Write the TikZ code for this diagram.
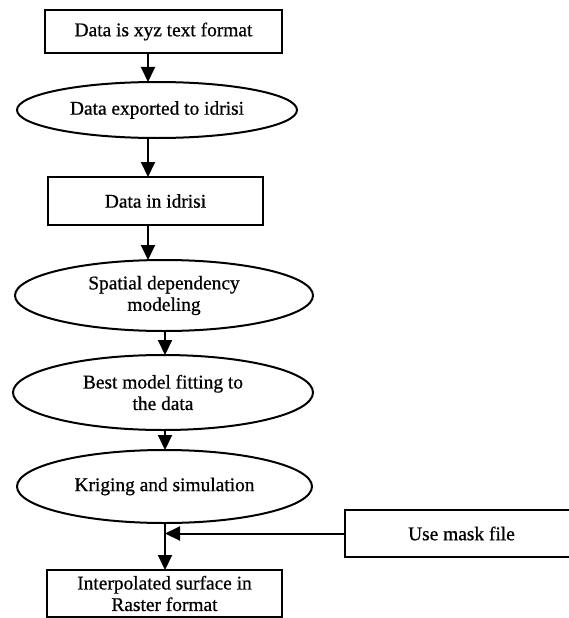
\documentclass[tikz,border=0pt]{standalone}
\usepackage{fontspec}
\setmainfont{Liberation Serif}[UprightFeatures={FakeBold=0.7}]
\usetikzlibrary{shapes.geometric,positioning,arrows.meta}
\tikzset{
>={Triangle[width=14pt,length=15pt]},
every node/.style={font=\fontsize{19.4}{21.5}\selectfont},
}

\begin{document}
\begin{tikzpicture}
    [x=1pt, y=1pt,
    line width=2pt,
    block/.style={draw, rectangle, align=center, inner sep=0pt, outer sep=0pt},
    oval/.style={draw, ellipse, align=center, inner sep=0pt, outer sep=0pt}
    ]
    \useasboundingbox (0,0) rectangle (568,-618);

    \node [block, minimum width=237pt, minimum height=43pt] (xyz) at (163.5,-31.5)
    {Data is xyz text format};

    \node [oval, minimum width=280pt, minimum height=56pt, below=29pt of xyz, xshift=-6.5pt] (export)
    {Data exported to idrisi};

    \node [block, minimum width=215pt, minimum height=48pt, below=39pt of export, xshift=-1.5pt] (idrisi)
    {Data in idrisi};

    \node [oval, minimum width=298pt, minimum height=71pt, below=35pt of idrisi, xshift=8.5pt] (spatial)
    {Spatial dependency\\modeling};

    \node [oval, minimum width=300pt, minimum height=75pt, below=24pt of spatial, xshift=-1pt] (fitting)
    {Best model fitting to\\the data};

    \node [oval, minimum width=295pt, minimum height=73pt, below=20pt of fitting, xshift=1.5pt] (kriging)
    {Kriging and simulation};

    \node [block, minimum width=235pt, minimum height=47pt, below=47pt of kriging] (surface)
    {Interpolated surface in\\Raster format};

    \node [block, minimum width=233pt, minimum height=47pt] (mask) at (461.5,-533.5)
    {Use mask file};

    \coordinate (upper) at (148,0);
    \coordinate (lower) at (165,0);

    \draw[->] (xyz.south -| upper) -- (export.north -| upper);
    \draw[->] (export.south -| upper) -- (idrisi.north -| upper);
    \draw[->] (idrisi.south -| upper) -- (spatial.north -| upper);
    \draw[->] (spatial.south -| lower) -- (fitting.north -| lower);
    \draw[->] (fitting.south -| lower) -- (kriging.north -| lower);
    \draw[->] (kriging.south -| lower) -- (surface.north -| lower);
    \draw[->] (mask.west) -- (mask.west -| lower);

\end{tikzpicture}
\end{document}
